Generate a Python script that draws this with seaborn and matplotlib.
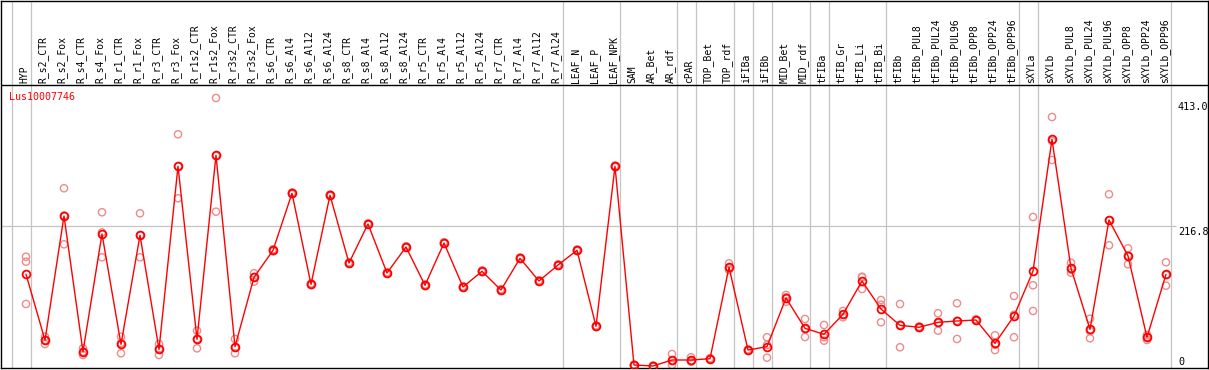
import pandas as pd
import seaborn as sns
import matplotlib.pyplot as plt

# Expression profile for one gene across tissues / treatments (3 replicates each)

categories = [
    "HYP", "R_s2_CTR", "R_s2_Fox", "R_s4_CTR", "R_s4_Fox", "R_r1_CTR", "R_r1_Fox",
    "R_r3_CTR", "R_r3_Fox", "R_r1s2_CTR", "R_r1s2_Fox", "R_r3s2_CTR", "R_r3s2_Fox",
    "R_s6_CTR", "R_s6_Al4", "R_s6_Al12", "R_s6_Al24", "R_s8_CTR", "R_s8_Al4",
    "R_s8_Al12", "R_s8_Al24", "R_r5_CTR", "R_r5_Al4", "R_r5_Al12", "R_r5_Al24",
    "R_r7_CTR", "R_r7_Al4", "R_r7_Al12", "R_r7_Al24", "LEAF_N", "LEAF_P", "LEAF_NPK",
    "SAM", "AR_Bet", "AR_rdf", "cPAR", "TOP_Bet", "TOP_rdf", "iFIBa", "iFIBb",
    "MID_Bet", "MID_rdf", "tFIBa", "tFIB_Gr", "tFIB_Li", "tFIB_Bi", "tFIBb",
    "tFIBb_PUL8", "tFIBb_PUL24", "tFIBb_PUL96", "tFIBb_OPP8", "tFIBb_OPP24",
    "tFIBb_OPP96", "sXYLa", "sXYLb", "sXYLb_PUL8", "sXYLb_PUL24", "sXYLb_PUL96",
    "sXYLb_OPP8", "sXYLb_OPP24", "sXYLb_OPP96",
]

rep_a = [
    170.2, 47.9, 274.9, 30.1, 238.2, 47.9, 236.6, 36.7, 357.5, 57.1, 413.0, 44.4, 144.9,
    181.5, 268.5, 129.2, 265.4, 161.8, 221.5, 146.5, 186.3, 127.7, 192.4, 125.1, 149.1,
    120.5, 169.0, 134.3, 158.7, 181.2, 65.0, 309.7,
    5.4, 3.9, 21.4, 16.4, 15.0, 160.1, 28.5, 47.0, 111.7, 75.0, 65.8, 87.2, 139.7, 104.0,
    97.9, 63.5, 83.7, 99.0, 74.6, 50.0, 110.1, 231.0, 383.9, 161.1, 75.4, 265.7, 183.1,
    50.5, 161.7,
]
rep_b = [
    162.6, 42.8, 233.4, 24.9, 207.4, 38.2, 203.0, 29.1, 308.5, 44.4, 324.3, 31.1, 139.2,
    180.0, 267.2, 128.0, 264.2, 160.6, 220.3, 145.3, 185.1, 126.5, 191.2, 123.9, 147.9,
    119.3, 167.8, 133.1, 157.5, 180.0, 63.8, 308.5,
    4.6, 3.1, 10.7, 10.7, 14.2, 152.5, 27.5, 35.2, 108.1, 59.7, 47.0, 81.5, 138.7, 96.8,
    66.2, 62.3, 68.8, 72.3, 73.4, 35.6, 81.5, 126.5, 347.2, 150.4, 56.6, 225.9, 172.4,
    47.4, 142.3,
]
rep_c = [
    97.9, 36.7, 189.2, 19.9, 169.3, 22.5, 169.3, 19.9, 259.6, 30.1, 239.1, 22.5, 132.0,
    178.5, 265.9, 126.8, 263.0, 159.4, 219.1, 144.1, 183.9, 125.3, 190.0, 122.7, 146.7,
    118.1, 166.6, 131.9, 156.3, 178.8, 62.6, 307.3,
    3.8, 2.3, 4.6, 9.6, 13.4, 149.9, 26.5, 15.8, 101.4, 47.4, 41.8, 77.6, 120.8, 69.9,
    31.7, 61.1, 57.1, 44.4, 72.2, 27.5, 47.0, 87.2, 318.2, 145.8, 45.4, 187.7, 158.6,
    42.8, 125.9,
]

# groups end after these samples (a grey separator is drawn there)
group_ends = ["HYP", "R_r7_Al24", "LEAF_NPK", "AR_rdf", "cPAR", "TOP_rdf", "iFIBa",
              "iFIBb", "MID_rdf", "tFIBa", "tFIB_Bi", "tFIBb_OPP96", "sXYLa", "sXYLb_OPP96"]

gene = "Lus10007746"
right_ticks = [413.0, 216.8, 0]
right_labels = ["413.0", "216.8", "0"]

# long format table
rows = []
for i, name in enumerate(categories):
    for v in (rep_a[i], rep_b[i], rep_c[i]):
        rows.append({"pos": i, "sample": name, "value": v})
df = pd.DataFrame(rows)

sns.set_theme(style="white")
plt.rcParams["font.family"] = ["DejaVu Sans Mono", "DejaVu Sans"]

fig = plt.figure(figsize=(12.09, 3.70), dpi=100)
ax = fig.add_axes([1 / 1209, 2 / 370, 1206.5 / 1209, 367.5 / 370])

# pixel layout: sample i sits at x = 26 + 19*i, value 0 at y=368, 413 at y=98
px_per_val = 0.6538
ax.set_xlim((1 - 26) / 19, (1207.5 - 26) / 19)
ax.set_ylim(0, 367.5 / px_per_val)
header_y = (368 - 85) / px_per_val

grid_col = "#c4c4c4"
ax.axvline(-1 + 5 / 19, color=grid_col, lw=0.9, zorder=1)
for name in group_ends:
    ax.axvline(categories.index(name) + 5 / 19, color=grid_col, lw=0.9, zorder=1)
ax.hlines(216.8, (1 - 26) / 19, len(categories) - 1 + 0.5, color=grid_col, lw=0.9, zorder=1)
ax.axhline(header_y, color="black", lw=1.0, zorder=1)

# replicates
sns.scatterplot(data=df, x="pos", y="value", ax=ax, marker="o", s=27,
                facecolor="none", edgecolor="#f08a8a", linewidth=1.0, zorder=2, legend=False)

# mean profile
sns.lineplot(data=df, x="pos", y="value", ax=ax, estimator="mean", errorbar=None,
             color="red", lw=1.0, marker="o", ms=5.6, mfc="none", mec="red", mew=1.3,
             zorder=3)

# column labels
for i, name in enumerate(categories):
    ax.text(i - 0.1, (368 - 83) / px_per_val, name, rotation=90, ha="center", va="bottom",
            fontsize=7, color="black")

ax.text((9 - 26) / 19, (368 - 97) / px_per_val, gene, color="red", fontsize=7.2,
        ha="left", va="center")

# right value labels (drawn a little below / above their value, like the original)
x_lab = (1178 - 26) / 19
label_shift_px = [-9.5, -5.5, 6]
for v, lab, dy in zip(right_ticks, right_labels, label_shift_px):
    ax.annotate(lab, (x_lab, v), xytext=(0, dy * 0.72), textcoords="offset points",
                fontsize=7.3, ha="left", va="center", color="black",
                annotation_clip=False, clip_on=True)

ax.set_xticks([])
ax.set_yticks([])
ax.set_xlabel("")
ax.set_ylabel("")
for sp in ax.spines.values():
    sp.set_color("black")
    sp.set_linewidth(1.0)
    sp.set_visible(True)

fig.savefig("out.png", dpi=100)
